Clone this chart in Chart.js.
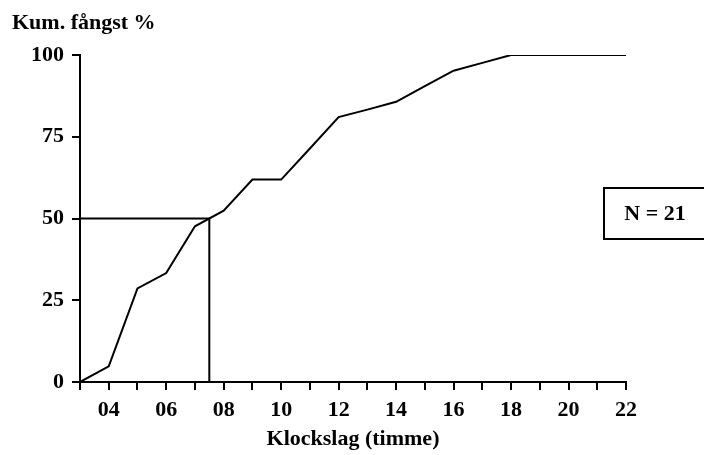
<!DOCTYPE html>
<html>
<head>
<meta charset="utf-8">
<script src="https://cdn.jsdelivr.net/npm/chart.js@4/dist/chart.umd.min.js"></script>
<style>
html,body{margin:0;padding:0;background:#fff;}
#wrap{width:704px;height:455px;position:relative;}
</style>
</head>
<body>
<div id="wrap"><canvas id="c" width="704" height="455"></canvas></div>
<script>
// Data
const hours = [3,4,5,6,7,8,9,10,11,12,13,14,15,16,17,18,19,20,21,22];
const cumCatch = [0,4.8,28.6,33.3,47.6,52.4,61.9,61.9,71.4,81.0,83.3,85.7,90.5,95.2,97.6,100,100,100,100,100];
const medianHour = 7.5;
const medianPct = 50;
const yTicks = [0,25,50,75,100];
const xLabelHours = [4,6,8,10,12,14,16,18,20,22];
const yTitle = 'Kum. fångst %';
const xTitle = 'Klockslag (timme)';
const nLabel = 'N = 21';

const FONT = "'Liberation Serif', 'Times New Roman', serif";

const extras = {
  id: 'extras',
  beforeDraw(chart) {
    const ctx = chart.ctx;
    ctx.save();
    ctx.fillStyle = '#fff';
    ctx.fillRect(0, 0, chart.width, chart.height);
    ctx.restore();
  },
  afterDraw(chart) {
    const ctx = chart.ctx;
    ctx.save();
    ctx.fillStyle = '#000';
    ctx.font = 'bold 22px ' + FONT;
    ctx.textAlign = 'left';
    ctx.textBaseline = 'alphabetic';
    ctx.fillText(yTitle, 12, 29);
    // N box
    ctx.strokeStyle = '#000';
    ctx.lineWidth = 2;
    ctx.beginPath();
    ctx.moveTo(710, 188);
    ctx.lineTo(604, 188);
    ctx.lineTo(604, 239);
    ctx.lineTo(710, 239);
    ctx.stroke();
    ctx.textAlign = 'center';
    ctx.textBaseline = 'middle';
    ctx.fillText(nLabel, 655, 214);
    ctx.restore();
  }
};

new Chart(document.getElementById('c'), {
  type: 'line',
  data: {
    datasets: [
      {
        data: hours.map((h, i) => ({x: h, y: cumCatch[i]})),
        borderColor: '#000',
        borderWidth: 2,
        pointRadius: 0,
        tension: 0,
        fill: false
      },
      {
        data: [{x: hours[0], y: medianPct}, {x: medianHour, y: medianPct}, {x: medianHour, y: 0}],
        borderColor: '#000',
        borderWidth: 2,
        pointRadius: 0,
        tension: 0,
        fill: false
      }
    ]
  },
  options: {
    responsive: false,
    animation: false,
    devicePixelRatio: 1,
    layout: { padding: { left: 0, right: 78, top: 55, bottom: 0 } },
    plugins: { legend: { display: false }, tooltip: { enabled: false }, title: { display: false } },
    scales: {
      x: {
        type: 'linear',
        min: hours[0],
        max: hours[hours.length - 1],
        afterFit(s) { s.height = 73; },
        afterBuildTicks(s) { s.ticks = hours.map(h => ({value: h})); },
        ticks: {
          autoSkip: false,
          maxRotation: 0,
          color: '#000',
          padding: 7,
          font: { family: FONT, size: 22, weight: 'bold' },
          callback: (v) => xLabelHours.includes(v) ? String(v).padStart(2, '0') : ''
        },
        grid: { drawOnChartArea: false, drawTicks: true, tickLength: 8, color: '#000', lineWidth: 2 },
        border: { display: true, color: '#000', width: 2 },
        title: { display: true, text: xTitle, color: '#000', font: { family: FONT, size: 22, weight: 'bold' }, padding: { top: 0, bottom: 2 } }
      },
      y: {
        min: 0,
        max: 100,
        afterFit(s) { s.width = 80; },
        afterBuildTicks(s) { s.ticks = yTicks.map(v => ({value: v})); },
        ticks: {
          color: '#000',
          padding: 8,
          font: { family: FONT, size: 22, weight: 'bold' }
        },
        grid: { drawOnChartArea: false, drawTicks: true, tickLength: 8, color: '#000', lineWidth: 2 },
        border: { display: true, color: '#000', width: 2 }
      }
    }
  },
  plugins: [extras]
});
</script>
</body>
</html>
